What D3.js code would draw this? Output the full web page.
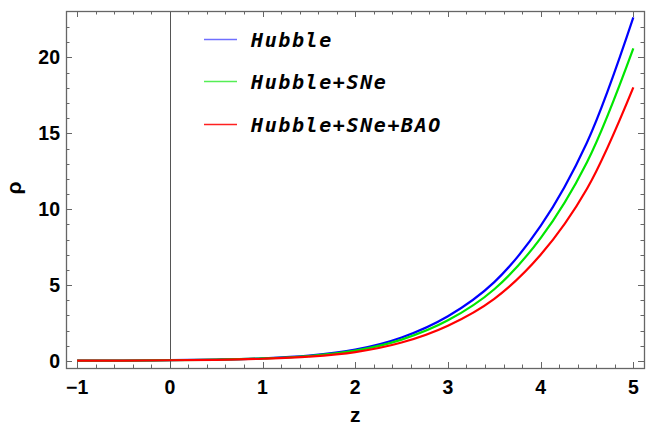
<!DOCTYPE html>
<html>
<head>
<meta charset="utf-8">
<script src="https://cdn.jsdelivr.net/npm/d3@7"></script>
<style>
  body { margin: 0; background: #fff; }
  svg { display: block; }
</style>
</head>
<body>
<svg width="654" height="427"></svg>
<script>
// values
const zValues = [-1, -0.5, 0, 0.5, 1, 1.5, 2, 2.5, 3, 3.5, 4, 4.5, 5];
const rhoHubble = [0.02, 0.03, 0.06, 0.10, 0.18, 0.36, 0.75, 1.55, 2.95, 5.2, 8.9, 14.4, 22.64];
const rhoHubbleSNe = [0.02, 0.03, 0.05, 0.09, 0.17, 0.33, 0.68, 1.41, 2.68, 4.73, 8.1, 13.1, 20.6];
const rhoHubbleSNeBAO = [0.02, 0.03, 0.05, 0.08, 0.15, 0.29, 0.59, 1.22, 2.33, 4.1, 7.0, 11.35, 18.03];
const seriesNames = ["Hubble", "Hubble+SNe", "Hubble+SNe+BAO"];
const seriesColours = ["#0000ff", "#00e600", "#ff0000"];
const legendColours = ["#6f6fff", "#55ee55", "#ff2020"];
const xTicks = [-1, 0, 1, 2, 3, 4, 5];
const yTicks = [0, 5, 10, 15, 20];

const series = [rhoHubble, rhoHubbleSNe, rhoHubbleSNeBAO];

const svg = d3.select("svg");
const frame = {left: 66, right: 644, top: 11, bottom: 368};

const x = d3.scaleLinear().domain([-1.12, 5.115]).range([frame.left, frame.right]);
const y = d3.scaleLinear().domain([-0.46, 23.06]).range([frame.bottom, frame.top]);

const frameColour = "#666";

// minor ticks
const xMinor = d3.range(-1.0, 5.001, 0.2).map(v => +v.toFixed(1));
const yMinor = d3.range(0, 23, 1);

const ticks = svg.append("g").attr("stroke", frameColour).attr("stroke-width", 1);

function isMajorX(v) { return Math.abs(v - Math.round(v)) < 1e-6; }
function isMajorY(v) { return v % 5 === 0; }

xMinor.forEach(function (v) {
    let len = isMajorX(v) ? 6 : 3.5;
    let px = Math.round(x(v)) + 0.5;
    ticks.append("line").attr("x1", px).attr("x2", px)
        .attr("y1", frame.bottom).attr("y2", frame.bottom - len);
    ticks.append("line").attr("x1", px).attr("x2", px)
        .attr("y1", frame.top).attr("y2", frame.top + len);
});
yMinor.forEach(function (v) {
    let len = isMajorY(v) ? 6 : 3.5;
    let py = Math.round(y(v)) + 0.5;
    ticks.append("line").attr("x1", frame.left).attr("x2", frame.left + len)
        .attr("y1", py).attr("y2", py);
    ticks.append("line").attr("x1", frame.right).attr("x2", frame.right - len)
        .attr("y1", py).attr("y2", py);
});

// vertical line at z = 0
svg.append("line")
    .attr("x1", Math.round(x(0)) + 0.5).attr("x2", Math.round(x(0)) + 0.5)
    .attr("y1", frame.top).attr("y2", frame.bottom)
    .attr("stroke", "#555").attr("stroke-width", 1);

// frame
svg.append("rect")
    .attr("x", frame.left + 0.5).attr("y", frame.top + 0.5)
    .attr("width", frame.right - frame.left).attr("height", frame.bottom - frame.top)
    .attr("fill", "none").attr("stroke", frameColour).attr("stroke-width", 1.3);

// tick labels
const labelFont = "'Liberation Sans', Arial, sans-serif";
svg.append("g").selectAll("text")
    .data(xTicks)
    .enter().append("text")
    .attr("x", d => x(d))
    .attr("y", 394)
    .attr("text-anchor", "middle")
    .attr("font-family", labelFont)
    .attr("font-weight", "bold")
    .attr("font-size", 19.5)
    .text(d => d < 0 ? "\u2212" + Math.abs(d) : d);

svg.append("g").selectAll("text")
    .data(yTicks)
    .enter().append("text")
    .attr("x", 60)
    .attr("y", d => y(d) + 7)
    .attr("text-anchor", "end")
    .attr("font-family", labelFont)
    .attr("font-weight", "bold")
    .attr("font-size", 19.5)
    .text(d => d);

// axis titles
svg.append("text")
    .attr("x", x(2))
    .attr("y", 422)
    .attr("text-anchor", "middle")
    .attr("font-family", labelFont)
    .attr("font-weight", "bold")
    .attr("font-size", 21)
    .text("z");

svg.append("text")
    .attr("transform", "translate(21,188) rotate(-90)")
    .attr("text-anchor", "middle")
    .attr("font-family", labelFont)
    .attr("font-weight", "bold")
    .attr("font-size", 21)
    .text("\u03c1");

// curves
const line = d3.line()
    .x((d, i) => x(zValues[i]))
    .y(d => y(d))
    .curve(d3.curveCatmullRom.alpha(0.5));

svg.append("g").selectAll("path")
    .data(series)
    .enter().append("path")
    .attr("d", line)
    .attr("fill", "none")
    .attr("stroke", (d, i) => seriesColours[i])
    .attr("stroke-width", 2.2);

// legend
const legend = svg.append("g");
const legendY = [39, 81, 124];
seriesNames.forEach(function (name, i) {
    legend.append("line")
        .attr("x1", 204).attr("x2", 237)
        .attr("y1", legendY[i] + 0.5).attr("y2", legendY[i] + 0.5)
        .attr("stroke", legendColours[i]).attr("stroke-width", 1.3);
    legend.append("text")
        .attr("x", 251)
        .attr("y", legendY[i] + 7.5)
        .attr("font-family", "'DejaVu Sans Mono', monospace")
        .attr("font-style", "italic")
        .attr("font-weight", "bold")
        .attr("font-size", 20)
        .attr("letter-spacing", 1.6)
        .text(name);
});
</script>
</body>
</html>
